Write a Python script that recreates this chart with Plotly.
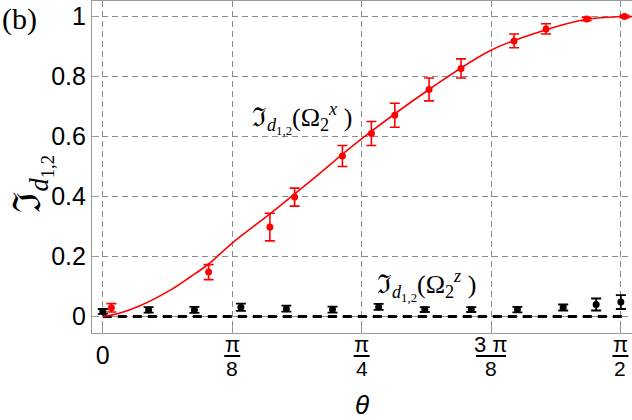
"""Fidelity of d_{1,2} versus theta, panel (b)."""

import math

import plotly.graph_objects as go

# theoretical curve
curve_theta = [0.0, 0.05, 0.111, 0.2126, 0.263, 0.321, 0.3927, 0.507, 0.628,
               0.785, 0.99, 1.178, 1.336, 1.469, 1.571, 1.606]
curve_val = [0.0, 0.011, 0.035, 0.093, 0.13, 0.175, 0.245, 0.342, 0.45,
             0.592, 0.757, 0.888, 0.953, 0.991, 1.0, 1.0]

# Omega_2^x measurements (red)
x_theta = [0.026, 0.321, 0.507, 0.582, 0.727, 0.815, 0.886, 0.990, 1.087,
           1.248, 1.345, 1.468, 1.583]
x_val = [0.029, 0.148, 0.298, 0.398, 0.535, 0.61, 0.671, 0.757, 0.827,
         0.919, 0.959, 0.992, 1.0]
x_err = [0.014, 0.025, 0.046, 0.03, 0.035, 0.04, 0.04, 0.038, 0.032,
         0.023, 0.017, 0.006, 0.004]

# Omega_2^z measurements (black)
z_theta = [0.0, 0.139, 0.278, 0.419, 0.557, 0.697, 0.837, 0.977, 1.118,
           1.258, 1.397, 1.497, 1.572]
z_val = [0.017, 0.022, 0.022, 0.031, 0.026, 0.023, 0.032, 0.023, 0.023,
         0.023, 0.030, 0.040, 0.048]
z_err = [0.008, 0.009, 0.01, 0.012, 0.01, 0.01, 0.01, 0.008, 0.008,
         0.009, 0.01, 0.02, 0.023]

zero_theta = [0.0, 1.585]
zero_val = [0.0, 0.0]

# x ticks: 0 is a plain label, the rest are drawn as stacked fractions
tick_vals = [0, math.pi / 8, math.pi / 4, 3 * math.pi / 8, math.pi / 2]
tick_num = ["", "π", "π", "3 π", "π"]
tick_den = ["", "8", "4", "8", "2"]

SANS = "Liberation Sans, Arial, sans-serif"
SERIF = "Liberation Serif, DejaVu Serif, serif"
GRID = "#8a8a8a"
FRAME = "#9a9a9a"

fig = go.Figure()

fig.add_trace(go.Scatter(
    x=zero_theta, y=zero_val, mode="lines",
    line=dict(color="black", width=3, dash="9px,6px"),
))
fig.add_trace(go.Scatter(
    x=curve_theta, y=curve_val, mode="lines", line_shape="spline",
    line=dict(color="#ff0000", width=1.6),
))
fig.add_trace(go.Scatter(
    x=x_theta, y=x_val, mode="markers",
    marker=dict(color="#ff0000", size=7),
    error_y=dict(type="data", array=x_err, color="#ff0000", thickness=1.6, width=5),
))
fig.add_trace(go.Scatter(
    x=z_theta, y=z_val, mode="markers",
    marker=dict(color="black", size=7),
    error_y=dict(type="data", array=z_err, color="black", thickness=1.8, width=5),
))

# fraction tick labels
for tv, num, den in zip(tick_vals, tick_num, tick_den):
    if not num:
        continue
    fig.add_annotation(x=tv, y=0, xref="x", yref="paper", yanchor="middle",
                       yshift=-11, showarrow=False, text=num,
                       font=dict(family=SANS, size=22, color="black"))
    fig.add_annotation(x=tv, y=0, xref="x", yref="paper", yanchor="middle",
                       yshift=-35, showarrow=False, text=den,
                       font=dict(family=SANS, size=21, color="black"))
    half = 8 if len(num) == 1 else 15
    fig.add_shape(type="line", xref="x", yref="paper",
                  xsizemode="pixel", xanchor=tv, x0=-half, x1=half,
                  ysizemode="pixel", yanchor=0, y0=-23, y1=-23,
                  line=dict(color="black", width=2))

fig.add_annotation(
    x=0.603, y=0.661, xref="x", yref="y", showarrow=False,
    text="ℑ<sub><i>d</i><sub>1,2</sub></sub>(Ω<sub>2</sub><sup><i>x</i></sup> )",
    font=dict(family=SERIF, size=26, color="black"),
)
fig.add_annotation(
    x=0.982, y=0.1035, xref="x", yref="y", showarrow=False,
    text="ℑ<sub><i>d</i><sub>1,2</sub></sub>(Ω<sub>2</sub><sup><i>z</i></sup> )",
    font=dict(family=SERIF, size=26, color="black"),
)
fig.add_annotation(
    x=0, y=1, xref="paper", yref="paper", xanchor="left", yanchor="top",
    xshift=-92, yshift=1, showarrow=False, text="(b)",
    font=dict(family=SERIF, size=30, color="black"),
)
fig.add_annotation(
    x=0, y=0.45, xref="paper", yref="paper", xshift=-88, showarrow=False,
    textangle=-90, text="ℑ<sub><i>d</i><sub>1,2</sub></sub>",
    font=dict(family=SERIF, size=38, color="black"),
)
fig.add_annotation(
    x=math.pi / 4, y=0, xref="x", yref="paper", yanchor="middle",
    yshift=-72, showarrow=False,
    text="<i>θ</i>", font=dict(family=SANS, size=26, color="black"),
)

fig.update_xaxes(
    range=[-0.0328, 1.6058], tickvals=tick_vals,
    ticktext=["0", "", "", "", ""],
    showgrid=True, gridcolor=GRID, griddash="6px,4px", gridwidth=1,
    showline=True, linecolor=FRAME, linewidth=1.2, mirror=True,
    ticks="inside", ticklen=7, tickcolor=FRAME,
    zeroline=False, tickfont=dict(family=SANS, size=25, color="black"),
)
fig.update_yaxes(
    range=[-0.0551, 1.052], tickvals=[0, 0.2, 0.4, 0.6, 0.8, 1],
    ticktext=["0", "0.2", "0.4", "0.6", "0.8", "1"],
    showgrid=True, gridcolor=GRID, griddash="6px,4px", gridwidth=1,
    showline=True, linecolor=FRAME, linewidth=1.2,
    ticks="inside", ticklen=7, tickcolor=FRAME,
    zeroline=False, tickfont=dict(family=SANS, size=25, color="black"),
)
fig.update_layout(
    width=632, height=420, showlegend=False,
    margin=dict(l=92, r=0, t=1, b=87),
    plot_bgcolor="white", paper_bgcolor="white",
)

fig.write_html("out.html", config={"displayModeBar": False},
               post_script="document.body.style.margin = '0';")
